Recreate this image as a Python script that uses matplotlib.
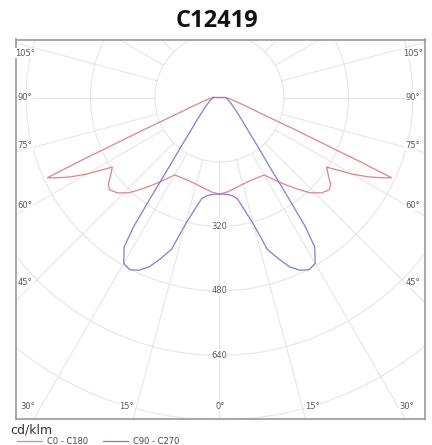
import numpy as np
import matplotlib.pyplot as plt
from matplotlib.patches import Circle

title = "C12419"
unit = "cd/klm"
series_names = ["C0 - C180", "C90 - C270"]

# gamma angle (deg from nadir) and intensity (cd/klm), one half of each plane
gamma_c0 = [0, 5, 10, 15, 20, 25, 30, 35, 37.5, 40, 43.5, 47, 50, 52, 54, 57,
            60, 62, 64, 65, 65.5, 66, 67, 69, 72, 77, 83, 90]
c0_c180 = [240, 235, 228, 223, 220, 220, 222, 255, 274, 295, 326, 347, 356, 350, 335, 317,
           380, 420, 455, 471, 380, 290, 200, 110, 70, 40, 25, 15]

gamma_c90 = [0, 2.5, 5, 7.5, 10, 12.5, 15, 17.5, 20, 22.5, 25, 27.5, 30, 32.5, 33.6,
             34.5, 36, 38, 41, 45, 50, 60, 70, 80, 90]
c90_c270 = [240, 240, 242, 246, 255, 285, 325, 395, 425, 455, 473, 482, 475, 440, 385,
            300, 210, 155, 108, 78, 57, 36, 26, 19, 15]

rings = [160, 320, 480, 640, 800, 960]
ring_labels = [320, 480, 640]
angle_labels = ["105°", "90°", "75°", "60°", "45°", "30°", "15°", "0°", "15°", "30°",
                "45°", "60°", "75°", "90°", "105°"]

grid_col = "#e6e6e6"
txt_col = "#5a5a5a"

fig = plt.figure(figsize=(4.32, 4.45), dpi=100)
ax = fig.add_axes([15.5 / 432, 26 / 445, 409.5 / 432, 379.5 / 445])
ax.set_xlim(-506, 510)
ax.set_ylim(-798, 144)
ax.set_xticks([])
ax.set_yticks([])
for s in ax.spines.values():
    s.set_color("#9a9a9a")
    s.set_linewidth(1.2)

# grid: rings + spokes every 15 deg (spokes start at first ring)
for r in rings:
    ax.add_patch(Circle((0, 0), r, fill=False, ec=grid_col, lw=0.8, zorder=1))
for a in range(-180, 180, 15):
    t = np.radians(a)
    rr = np.array([rings[0], 1400])
    ax.plot(rr * np.sin(t), -rr * np.cos(t), color=grid_col, lw=0.8, zorder=1)


def half_to_full(gam, vals):
    # mirror one half-plane to both sides and close the loop at the top
    g = np.array(gam, dtype=float)
    v = np.array(vals, dtype=float)
    th = np.concatenate([-g[::-1], g[1:], [-g[-1]]])
    rv = np.concatenate([v[::-1], v[1:], [v[-1]]])
    t = np.radians(th)
    return rv * np.sin(t), -rv * np.cos(t)


x0, y0 = half_to_full(gamma_c0, c0_c180)
x1, y1 = half_to_full(gamma_c90, c90_c270)
l0, = ax.plot(x0, y0, color="#e08484", lw=0.9, zorder=3, label=series_names[0])
l1, = ax.plot(x1, y1, color="#7f7fd8", lw=0.9, zorder=3, label=series_names[1])

# ring values on the 0 deg line
for v in ring_labels:
    ax.text(0, -v, str(v), ha="center", va="center", fontsize=6, color=txt_col, zorder=4,
            bbox=dict(fc="white", ec="none", pad=0.6))

# angle labels around the frame
label_pos = [(-483, 110), (-483, 1), (-483, -118), (-483, -267), (-483, -460),
             (-475, -768), (-230, -768), (1, -768), (230, -768), (465, -768),
             (480, -460), (480, -267), (480, -118), (480, 1), (480, 110)]
for txt, (lx, ly) in zip(angle_labels, label_pos):
    ax.text(lx, ly, txt, ha="center", va="center", fontsize=6, color=txt_col, zorder=4,
            bbox=dict(fc="white", ec="none", pad=0.4))

fig.text(0.502, 1 - 21 / 445, title, ha="center", va="center", fontsize=17,
         fontweight="bold", family="Open Sans", color="#111111")
fig.text(10 / 432, 1 - 430 / 445, unit, ha="left", va="center", fontsize=9, color="#333333")
fig.legend(handles=[l0, l1], loc="center left", bbox_to_anchor=(17 / 432, 1 - 441 / 445),
           ncol=2, frameon=False, fontsize=6, handlelength=3.0, columnspacing=1.8,
           handletextpad=0.6, labelcolor="#444444", borderpad=0, borderaxespad=0)

fig.savefig("out.png", dpi=100)
